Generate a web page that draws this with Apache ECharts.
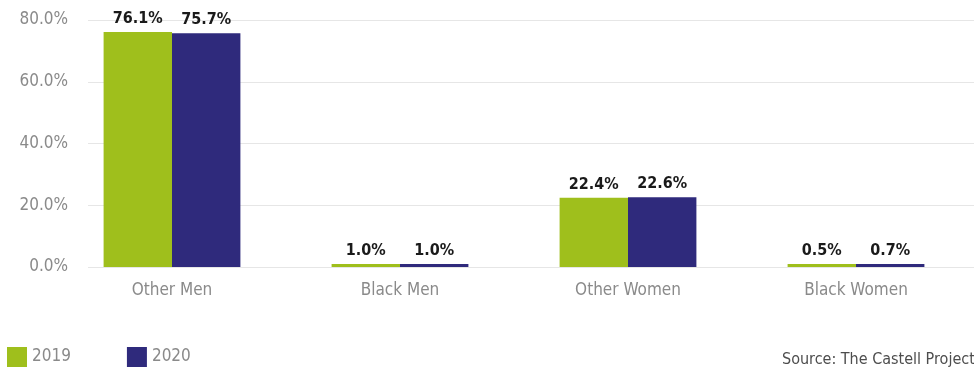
<!DOCTYPE html>
<html>
<head>
<meta charset="utf-8">
<script src="https://cdn.jsdelivr.net/npm/echarts@6/dist/echarts.min.js"></script>
<style>
  html, body { margin: 0; padding: 0; background: #fff; }
  #chart { width: 974px; height: 374px; }
</style>
</head>
<body>
<div id="chart"></div>
<script>
var categories = ['Other Men', 'Black Men', 'Other Women', 'Black Women'];
var values2019 = [76.1, 1.0, 22.4, 0.5];
var values2020 = [75.7, 1.0, 22.6, 0.7];
var seriesNames = ['2019', '2020'];
var yTicks = { min: 0, max: 80, interval: 20 };
var sourceNote = 'Source: The Castell Project';

var GREEN = '#9fbf1c';
var NAVY = '#2f2a7c';
var FONT = '"Liberation Sans Narrow", "DejaVu Sans Condensed", sans-serif';

var chart = echarts.init(document.getElementById('chart'), null, { renderer: 'canvas' });

function pctLabel(v) {
  return v.toFixed(1) + '%';
}

var barLabel = {
  show: true,
  position: 'top',
  distance: 5,
  fontFamily: '"DejaVu Sans Condensed", sans-serif',
  fontWeight: 'bold',
  fontSize: 16,
  color: '#1a1a1a',
  formatter: function (p) { return pctLabel(p.value); }
};

chart.setOption({
  animation: false,
  backgroundColor: '#ffffff',
  textStyle: { fontFamily: FONT },
  legend: {
    left: 2,
    top: 342,
    itemWidth: 20,
    itemHeight: 20,
    itemGap: 56,
    icon: 'rect',
    textStyle: { fontFamily: FONT, fontSize: 17, color: '#8a8a8a' },
    data: seriesNames
  },
  graphic: [{
    type: 'text',
    left: 782,
    top: 352,
    style: { text: sourceNote, font: '16px ' + FONT, fill: '#4d4d4d' }
  }],
  grid: [
    // grid 0 carries the value axis labels and gridlines
    { left: 88, right: 0, top: 20, bottom: 107, containLabel: false },
    // grid 1 carries the bars and category labels
    { left: 58, right: 4, top: 20, bottom: 107, containLabel: false }
  ],
  xAxis: [
    { gridIndex: 0, type: 'category', data: categories, show: false },
    {
      gridIndex: 1,
      type: 'category',
      data: categories,
      axisLine: { show: false },
      axisTick: { show: false },
      axisLabel: { margin: 15, fontSize: 17, color: '#8a8a8a', fontFamily: FONT }
    }
  ],
  yAxis: [
    {
      gridIndex: 0,
      type: 'value',
      min: yTicks.min,
      max: yTicks.max,
      interval: yTicks.interval,
      axisLine: { show: false },
      axisTick: { show: false },
      axisLabel: { margin: 20, fontSize: 17, color: '#8a8a8a', fontFamily: FONT, formatter: pctLabel },
      splitLine: { lineStyle: { color: '#e6e6e6', width: 1 } }
    },
    {
      gridIndex: 1,
      type: 'value',
      min: yTicks.min,
      max: yTicks.max,
      interval: yTicks.interval,
      show: false,
      splitLine: { show: false }
    }
  ],
  series: [
    {
      name: seriesNames[0],
      type: 'bar',
      xAxisIndex: 1,
      yAxisIndex: 1,
      data: values2019,
      barGap: '0%',
      barCategoryGap: '40%',
      barMinHeight: 3,
      itemStyle: { color: GREEN },
      label: barLabel
    },
    {
      name: seriesNames[1],
      type: 'bar',
      xAxisIndex: 1,
      yAxisIndex: 1,
      data: values2020,
      barGap: '0%',
      barCategoryGap: '40%',
      barMinHeight: 3,
      itemStyle: { color: NAVY },
      label: barLabel
    }
  ]
});
</script>
</body>
</html>
